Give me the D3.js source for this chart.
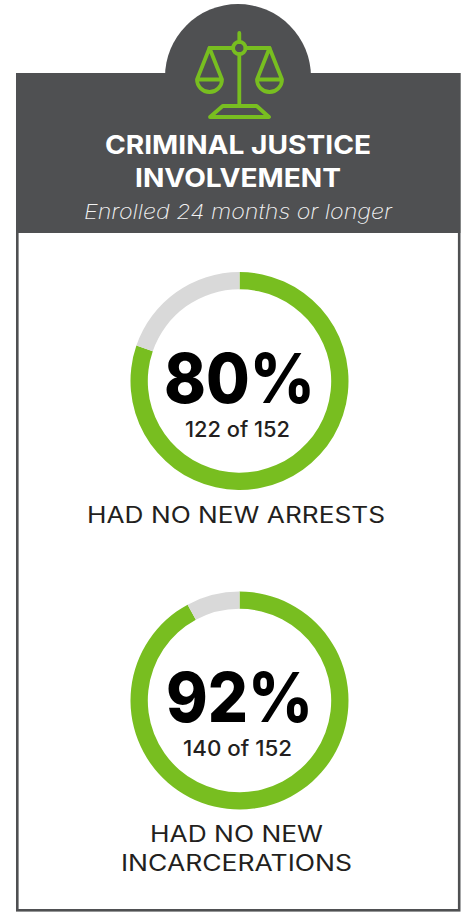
<!DOCTYPE html>
<html><head><meta charset="utf-8">
<style>html,body{margin:0;padding:0;background:#fff}svg{display:block}</style>
<script src="https://cdn.jsdelivr.net/npm/d3@7/dist/d3.min.js"></script>
</head><body><svg id="c" width="463" height="912"></svg>
<script>
const percentLabels = ["80%", "92%"];
const counts = [122, 140];
const totals = [152, 152];
const captions = [["HAD NO NEW ARRESTS"], ["HAD NO NEW", "INCARCERATIONS"]];
const titleLines = ["CRIMINAL JUSTICE", "INVOLVEMENT"];
const subtitle = "Enrolled 24 months or longer";

const GREEN = "#78be20", GRAY = "#d9d9d9", DARK = "#4f5052", INK = "#231f20";
const FONT = "Inter, Lato, sans-serif";
const svg = d3.select("#c");

// frame and header
svg.append("rect").attr("x",17.3).attr("y",74.3).attr("width",441.9).attr("height",836)
  .attr("fill","#fff").attr("stroke",DARK).attr("stroke-width",2.6);
svg.append("circle").attr("cx",238).attr("cy",77).attr("r",73).attr("fill",DARK);
svg.append("rect").attr("x",16).attr("y",73).attr("width",444.4).attr("height",160).attr("fill",DARK);

// scales icon
const icon = svg.append("g").attr("fill","none").attr("stroke",GREEN).attr("stroke-width",3.8)
  .attr("stroke-linejoin","round").attr("stroke-linecap","round");
icon.append("path").attr("d","M239.3 33V42M239.3 54V106");
icon.append("circle").attr("cx",239.3).attr("cy",48).attr("r",6.2);
icon.append("path").attr("d","M233 48H209.5M245.5 48H269.5");
[209.5,269.5].forEach(x=>{
  icon.append("path").attr("d",`M${x} 48L${x-12.5} 79.5A12.5 12.5 0 0 0 ${x+12.5} 79.5L${x} 48M${x-12.5} 79.5H${x+12.5}`);
});
icon.append("path").attr("d","M222.7 106H256.7L269 117H210Z");

function text(str,x1,x2,base,size,weight,fill,style){
  return svg.append("text").attr("x",x1).attr("y",base).text(str)
    .attr("textLength",x2-x1).attr("lengthAdjust","spacingAndGlyphs")
    .attr("font-family",FONT).attr("font-size",size).attr("font-weight",weight)
    .attr("font-style",style||"normal").attr("fill",fill);
}
text(titleLines[0],105,371,154,25.5,700,"#fff");
text(titleLines[1],135,341,186.5,25.5,700,"#fff");
text(subtitle,84,392,219,20.5,200,"#f2f2f2","italic");

// donuts
const cy = [381,700.5], cx = 239.5;
const pie = d3.pie().sort(null).value(d=>d);
const arc = d3.arc().innerRadius(91.7).outerRadius(109);
const pctX = [[164,315],[166,313]], pctBase=[403,722];
const cntX = [[185,290],[183,292]], cntBase=[436.7,756];
const capX = [[[87,385]],[[150,323],[121,352]]], capBase=[[523],[841.7,870.7]];
counts.forEach((v,i)=>{
  const g = svg.append("g").attr("transform",`translate(${cx},${cy[i]})`);
  g.selectAll("path").data(pie([v,totals[i]-v])).join("path")
    .attr("d",arc).attr("fill",(d,j)=>j===0?GREEN:GRAY);
  text(percentLabels[i],pctX[i][0],pctX[i][1],pctBase[i],69,800,"#000");
  text(`${v} of ${totals[i]}`,cntX[i][0],cntX[i][1],cntBase[i],21,500,INK);
  captions[i].forEach((c,k)=>text(c,capX[i][k][0],capX[i][k][1],capBase[i][k],22.5,400,INK));
});
</script></body></html>
